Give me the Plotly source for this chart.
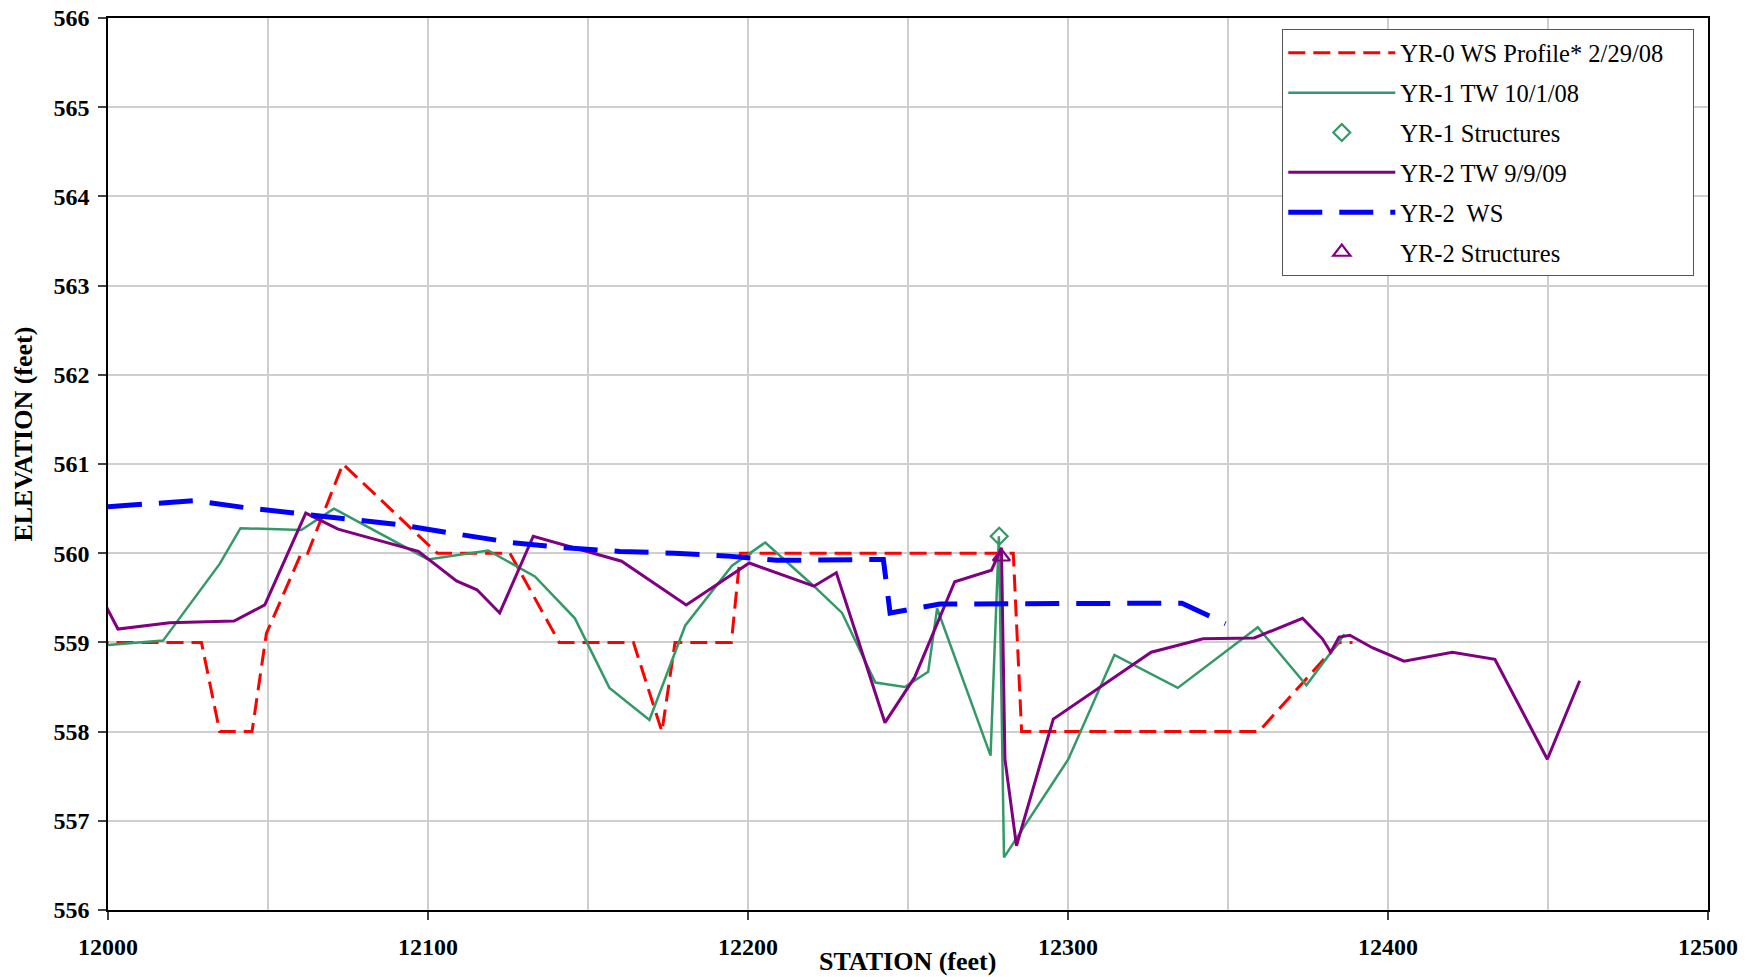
import plotly.graph_objects as go

# ---- survey data: station (ft) vs elevation (ft) ----
yr0_station = [11998.4, 11999.3, 12029.2, 12034.9, 12045.0, 12049.5, 12060.4, 12062.4,
               12073.4, 12102.9, 12125.6, 12141.0, 12164.2, 12173.1, 12177.2, 12194.8,
               12197.6, 12282.9, 12285.5, 12359.6, 12384.7, 12388.9]
yr0_elev = [560.0, 559.0, 559.0, 558.0, 558.0, 559.1, 560.0, 560.0,
            561.0, 560.0, 560.0, 559.0, 559.0, 558.0, 559.0, 559.0,
            560.0, 560.0, 558.0, 558.0, 559.0, 559.0]

yr1_station = [11997.4, 11999.3, 12017.2, 12034.9, 12041.4, 12060.4, 12070.6, 12100.0,
               12118.8, 12133.4, 12145.9, 12156.7, 12169.2, 12180.4, 12195.0, 12205.4,
               12220.6, 12229.4, 12239.8, 12249.0, 12256.3, 12259.1, 12275.8, 12278.4,
               12280.0, 12300.1, 12314.5, 12334.3, 12359.3, 12374.5, 12386.4]
yr1_elev = [559.13, 558.97, 559.02, 559.88, 560.28, 560.26, 560.50, 559.93,
            560.03, 559.74, 559.27, 558.49, 558.13, 559.19, 559.86, 560.12,
            559.63, 559.33, 558.55, 558.50, 558.67, 559.38, 557.73, 560.19,
            556.59, 557.69, 558.86, 558.49, 559.17, 558.52, 559.09]

yr1_struct_station = [12278.5]
yr1_struct_elev = [560.19]

yr2_station = [11997.4, 12003.1, 12019.3, 12039.4, 12049.0, 12061.8, 12071.9, 12097.0,
               12108.9, 12115.3, 12122.4, 12132.9, 12160.5, 12180.7, 12200.4, 12220.6,
               12227.6, 12242.8, 12252.1, 12264.6, 12276.1, 12279.2, 12280.3, 12283.9,
               12295.4, 12326.0, 12342.2, 12358.2, 12373.3, 12379.5, 12382.1, 12384.7,
               12388.1, 12395.1, 12405.0, 12420.1, 12433.4, 12449.8, 12459.9]
yr2_elev = [559.54, 559.15, 559.22, 559.24, 559.42, 560.45, 560.27, 560.02,
            559.69, 559.59, 559.33, 560.19, 559.91, 559.42, 559.89, 559.63,
            559.78, 558.10, 558.61, 559.68, 559.81, 560.06, 557.69, 556.72,
            558.14, 558.89, 559.04, 559.05, 559.27, 559.04, 558.89, 559.06,
            559.08, 558.94, 558.79, 558.89, 558.81, 557.69, 558.57]

ws2_station = [12000.0, 12027.0, 12043.0, 12067.0, 12091.0, 12110.0, 12126.0, 12143.0,
               12160.0, 12177.0, 12193.0, 12209.0, 12242.3, 12244.4, 12260.0, 12335.6,
               12349.2]
ws2_elev = [560.52, 560.59, 560.51, 560.41, 560.32, 560.21, 560.12, 560.06,
            560.02, 560.00, 559.97, 559.92, 559.93, 559.33, 559.43, 559.44,
            559.21]

yr2_struct_station = [12279.2]
yr2_struct_elev = [559.96]

SERIF = "Liberation Serif, Times New Roman, serif"
NBSP = "\u00a0"

fig = go.Figure()

fig.add_trace(go.Scatter(
    x=yr0_station, y=yr0_elev, mode="lines",
    name="YR-0 WS Profile* 2/29/08" + NBSP * 4,
    legendgroup="a", line=dict(color="#FF0000", width=3, dash="17px,8px")))
fig.add_trace(go.Scatter(
    x=yr1_station, y=yr1_elev, mode="lines", name="YR-1 TW 10/1/08",
    legendgroup="b", line=dict(color="#339966", width=2.5)))
fig.add_trace(go.Scatter(
    x=yr1_struct_station, y=yr1_struct_elev, mode="markers", name="YR-1 Structures",
    legendgroup="c", cliponaxis=False,
    marker=dict(symbol="diamond-open", size=13, color="#339966",
                line=dict(color="#339966", width=2.2))))
fig.add_trace(go.Scatter(
    x=yr2_station, y=yr2_elev, mode="lines", name="YR-2 TW 9/9/09",
    legendgroup="d", line=dict(color="#800080", width=3)))
fig.add_trace(go.Scatter(
    x=ws2_station, y=ws2_elev, mode="lines", name="YR-2  WS",
    legendgroup="e", line=dict(color="#0000FF", width=5, dash="34px,17px")))
fig.add_trace(go.Scatter(
    x=yr2_struct_station, y=yr2_struct_elev, mode="markers", name="YR-2 Structures",
    legendgroup="f", cliponaxis=False,
    marker=dict(symbol="triangle-up-open", size=15, color="#800080",
                line=dict(color="#800080", width=2.2))))

axis_common = dict(
    showline=True, linecolor="black", linewidth=1.5, mirror=True,
    showgrid=True, gridcolor="#cfcfcf", gridwidth=1.5,
    ticks="outside", tickcolor="#444", tickwidth=1.5,
    tickfont=dict(family=SERIF, size=24, color="black", weight="bold"),
    zeroline=False, automargin=False,
)

fig.update_xaxes(range=[12000, 12500], dtick=100, tick0=12000, ticklen=8,
                 tickformat="d", ticklabelstandoff=6,
                 minor=dict(dtick=50, showgrid=True, gridcolor="#cfcfcf", gridwidth=1.5,
                            ticks=""),
                 **axis_common)
fig.update_yaxes(range=[556, 566], dtick=1, tick0=556, ticklen=8,
                 tickformat="d", ticklabelstandoff=4, **axis_common)

fig.add_annotation(text="<b>STATION (feet)</b>", xref="paper", yref="paper",
                   x=0.4994, y=-0.0572, xanchor="center", yanchor="middle",
                   showarrow=False, font=dict(family=SERIF, size=26, color="black"))
fig.add_annotation(text="<b>ELEVATION (feet)</b>", xref="paper", yref="paper",
                   x=-0.0525, y=0.533, xanchor="center", yanchor="middle",
                   textangle=-90, showarrow=False,
                   font=dict(family=SERIF, size=26, color="black"))

fig.update_layout(
    width=1750, height=977,
    margin=dict(l=108, r=42, t=18, b=67),
    paper_bgcolor="white", plot_bgcolor="white",
    font=dict(family=SERIF, color="black"),
    showlegend=True,
    legend=dict(
        x=0.7338, y=0.9875, xanchor="left", yanchor="top",
        bgcolor="white", bordercolor="#555555", borderwidth=1.2,
        font=dict(family=SERIF, size=24.5, color="black"),
        itemwidth=107, tracegroupgap=5, traceorder="grouped",
    ),
)

fig.write_html("out.html")
